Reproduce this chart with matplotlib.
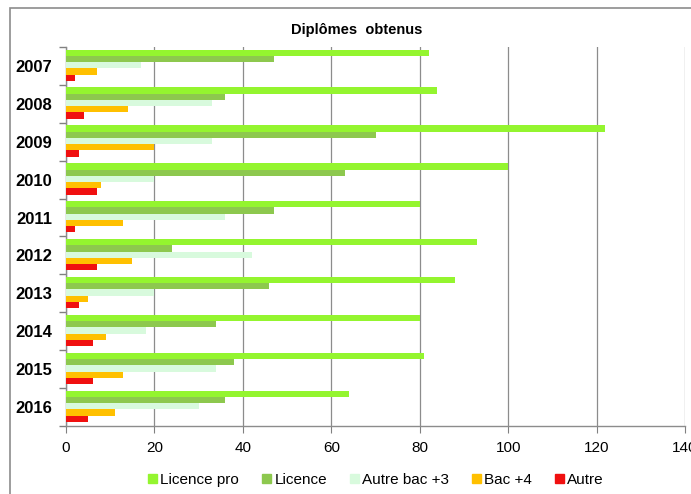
import numpy as np
import matplotlib.pyplot as plt
from matplotlib.patches import Rectangle, Patch

years = ['2007', '2008', '2009', '2010', '2011', '2012', '2013', '2014', '2015', '2016']
series = ['Licence pro', 'Licence', 'Autre bac +3', 'Bac +4', 'Autre']
licence_pro = [82, 84, 122, 100, 80, 93, 88, 80, 81, 64]
licence = [47, 36, 70, 63, 47, 24, 46, 34, 38, 36]
autre_bac3 = [17, 33, 33, 20, 36, 42, 20, 18, 34, 30]
bac4 = [7, 14, 20, 8, 13, 15, 5, 9, 13, 11]
autre = [2, 4, 3, 7, 2, 7, 3, 6, 6, 5]
colors = ['#94F52F', '#8DC84E', '#D8FADD', '#FFC000', '#F01010']

plt.rcParams['font.family'] = ['Liberation Sans', 'DejaVu Sans']

fig = plt.figure(figsize=(6.91, 4.94), dpi=100)
# outer chart frame (cropped on the right / bottom like the reference)
fig.patches.append(Rectangle((10 / 691, -0.05), 1.0, 1 - 8 / 494 + 0.05,
                             transform=fig.transFigure, fill=False,
                             edgecolor='#8c8c8c', linewidth=1.2))

ax = fig.add_axes([66 / 691, 1 - 426 / 494, 619 / 691, 379 / 494])

data = [licence_pro, licence, autre_bac3, bac4, autre]
y = np.arange(len(years))
h = 0.165
for i, vals in enumerate(data):
    ax.barh(y - 2 * h + i * h - 0.02, vals, height=h, color=colors[i],
            label=series[i], zorder=3)

ax.set_xlim(0, 140)
ax.set_xticks(np.arange(0, 141, 20))
ax.set_ylim(len(years) - 0.5, -0.5)
ax.set_yticks(y)
ax.set_yticklabels(years, fontsize=12, fontweight='bold')
ax.set_yticks(np.arange(-0.5, len(years)), minor=True)
ax.tick_params(axis='y', which='major', length=0, pad=10)
ax.tick_params(axis='y', which='minor', length=5, color='#808080', width=1)
ax.tick_params(axis='x', length=5, color='#808080', labelsize=11, pad=6)
ax.grid(axis='x', color='#8c8c8c', linewidth=0.9, zorder=0)
for s in ['top', 'right']:
    ax.spines[s].set_visible(False)
for s in ['left', 'bottom']:
    ax.spines[s].set_color('#8c8c8c')
    ax.spines[s].set_linewidth(1)

fig.text(357 / 691, 1 - 30 / 494, 'Diplômes  obtenus', ha='center', va='center',
         fontsize=10.5, fontweight='bold')

handles = [Patch(color=c) for c in colors]
fig.legend(handles, series, loc='center', bbox_to_anchor=(376 / 691, 1 - 480 / 494),
           ncol=5, frameon=False, fontsize=11, handlelength=0.6, handleheight=0.6,
           handletextpad=0.2, columnspacing=1.5)

fig.savefig('out.png', dpi=100)
